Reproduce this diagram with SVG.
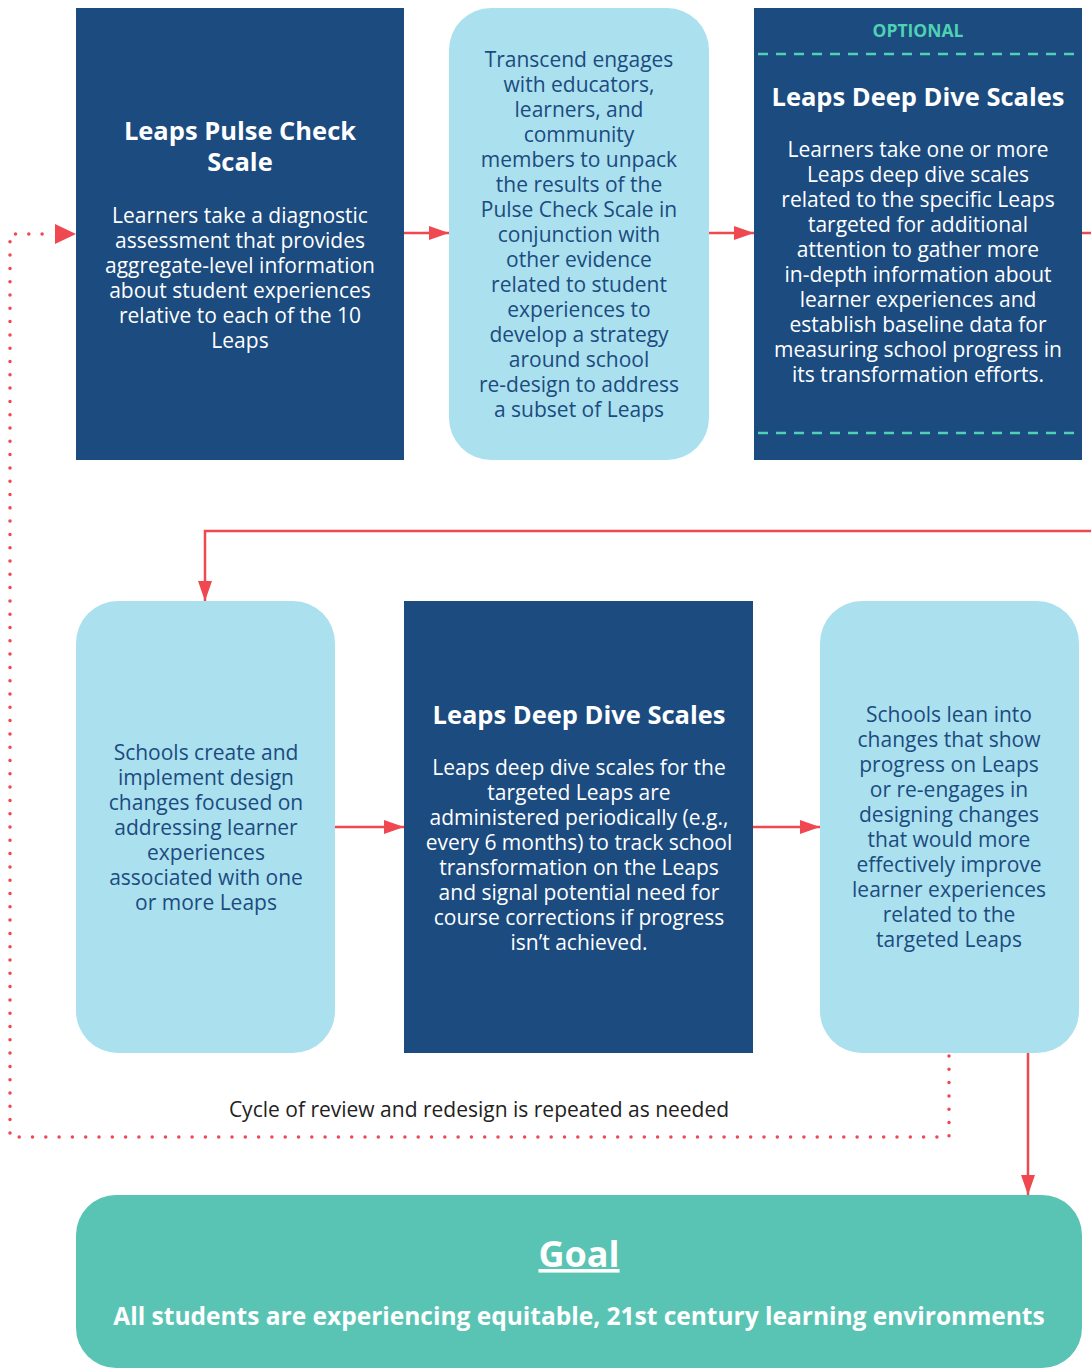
<svg xmlns="http://www.w3.org/2000/svg" width="1091" height="1368" viewBox="0 0 1091 1368">
<defs>
<style>
.dark{fill:#1b4b7f}
.light{fill:#abe0ee}
.t{font-family:"Open Sans","Noto Sans",sans-serif;text-anchor:middle}
.title{font-size:25.5px;font-weight:bold;fill:#fff}
.wb{font-size:21px;fill:#fff}
.db{font-size:21px;fill:#1b4b7f}
.conn{stroke:#ef4850;stroke-width:2.5;fill:none}
.dot{stroke:#ef4850;stroke-width:3.5;fill:none;stroke-dasharray:0 13.3;stroke-linecap:round}
.dash{stroke:#4fd1b3;stroke-width:2.5;stroke-dasharray:10 8}
</style>
<marker id="ah2" viewBox="0 0 10 10" refX="10" refY="5" markerWidth="20" markerHeight="14" markerUnits="userSpaceOnUse" orient="auto" preserveAspectRatio="none">
<path d="M0,0 L10,5 L0,10 Z" fill="#ef4850"/>
</marker>
</defs>
<rect width="1091" height="1368" fill="#fff"/>

<g id="connectors">
<line class="conn" x1="404" y1="233" x2="449" y2="233" marker-end="url(#ah2)"/>
<line class="conn" x1="709" y1="233" x2="754" y2="233" marker-end="url(#ah2)"/>
<line class="conn" x1="1082" y1="233" x2="1091" y2="233"/>
<polyline class="conn" points="1091,531 205,531 205,601" marker-end="url(#ah2)"/>
<line class="conn" x1="335" y1="827" x2="404" y2="827" marker-end="url(#ah2)"/>
<line class="conn" x1="753" y1="827" x2="820" y2="827" marker-end="url(#ah2)"/>
<line class="conn" x1="1028" y1="1053" x2="1028" y2="1195" marker-end="url(#ah2)"/>
<polyline class="dot" points="949,1056 949,1137 10,1137 10,234 52,234"/>
<path d="M55,224 L76,234 L55,244 Z" fill="#ef4850"/>
<text class="t" x="479" y="1117" style="font-size:21px;fill:#222">Cycle of review and redesign is repeated as needed</text>
</g>

<g id="node-pulse-check">
<rect class="dark" x="76" y="8" width="328" height="452"/>
<text class="t title" x="240" y="140">Leaps Pulse Check</text>
<text class="t title" x="240" y="171">Scale</text>
<text class="t wb" x="240" y="223">Learners take a diagnostic</text>
<text class="t wb" x="240" y="248">assessment that provides</text>
<text class="t wb" x="240" y="273">aggregate-level information</text>
<text class="t wb" x="240" y="298">about student experiences</text>
<text class="t wb" x="240" y="323">relative to each of the 10</text>
<text class="t wb" x="240" y="348">Leaps</text>
</g>

<g id="node-transcend">
<rect class="light" x="449" y="8" width="260" height="452" rx="42"/>
<text class="t db" x="579" y="67">Transcend engages</text>
<text class="t db" x="579" y="92">with educators,</text>
<text class="t db" x="579" y="117">learners, and</text>
<text class="t db" x="579" y="142">community</text>
<text class="t db" x="579" y="167">members to unpack</text>
<text class="t db" x="579" y="192">the results of the</text>
<text class="t db" x="579" y="217">Pulse Check Scale in</text>
<text class="t db" x="579" y="242">conjunction with</text>
<text class="t db" x="579" y="267">other evidence</text>
<text class="t db" x="579" y="292">related to student</text>
<text class="t db" x="579" y="317">experiences to</text>
<text class="t db" x="579" y="342">develop a strategy</text>
<text class="t db" x="579" y="367">around school</text>
<text class="t db" x="579" y="392">re-design to address</text>
<text class="t db" x="579" y="417">a subset of Leaps</text>
</g>

<g id="node-optional-deep-dive">
<rect class="dark" x="754" y="8" width="328" height="452"/>
<text class="t" x="918" y="37" style="font-size:17.5px;font-weight:bold;fill:#4fd1b3">OPTIONAL</text>
<line class="dash" x1="758" y1="54" x2="1080" y2="54"/>
<text class="t title" x="918" y="106">Leaps Deep Dive Scales</text>
<text class="t wb" x="918" y="157">Learners take one or more</text>
<text class="t wb" x="918" y="182">Leaps deep dive scales</text>
<text class="t wb" x="918" y="207">related to the specific Leaps</text>
<text class="t wb" x="918" y="232">targeted for additional</text>
<text class="t wb" x="918" y="257">attention to gather more</text>
<text class="t wb" x="918" y="282">in-depth information about</text>
<text class="t wb" x="918" y="307">learner experiences and</text>
<text class="t wb" x="918" y="332">establish baseline data for</text>
<text class="t wb" x="918" y="357">measuring school progress in</text>
<text class="t wb" x="918" y="382">its transformation efforts.</text>
<line class="dash" x1="758" y1="433" x2="1080" y2="433"/>
</g>

<g id="node-design-changes">
<rect class="light" x="76" y="601" width="259" height="452" rx="42"/>
<text class="t db" x="206" y="760">Schools create and</text>
<text class="t db" x="206" y="785">implement design</text>
<text class="t db" x="206" y="810">changes focused on</text>
<text class="t db" x="206" y="835">addressing learner</text>
<text class="t db" x="206" y="860">experiences</text>
<text class="t db" x="206" y="885">associated with one</text>
<text class="t db" x="206" y="910">or more Leaps</text>
</g>

<g id="node-deep-dive">
<rect class="dark" x="404" y="601" width="349" height="452"/>
<text class="t title" x="579" y="724">Leaps Deep Dive Scales</text>
<text class="t wb" x="579" y="775">Leaps deep dive scales for the</text>
<text class="t wb" x="579" y="800">targeted Leaps are</text>
<text class="t wb" x="579" y="825">administered periodically (e.g.,</text>
<text class="t wb" x="579" y="850">every 6 months) to track school</text>
<text class="t wb" x="579" y="875">transformation on the Leaps</text>
<text class="t wb" x="579" y="900">and signal potential need for</text>
<text class="t wb" x="579" y="925">course corrections if progress</text>
<text class="t wb" x="579" y="950">isn’t achieved.</text>
</g>

<g id="node-lean-into">
<rect class="light" x="820" y="601" width="259" height="452" rx="42"/>
<text class="t db" x="949" y="722">Schools lean into</text>
<text class="t db" x="949" y="747">changes that show</text>
<text class="t db" x="949" y="772">progress on Leaps</text>
<text class="t db" x="949" y="797">or re-engages in</text>
<text class="t db" x="949" y="822">designing changes</text>
<text class="t db" x="949" y="847">that would more</text>
<text class="t db" x="949" y="872">effectively improve</text>
<text class="t db" x="949" y="897">learner experiences</text>
<text class="t db" x="949" y="922">related to the</text>
<text class="t db" x="949" y="947">targeted Leaps</text>
</g>

<g id="node-goal">
<rect x="76" y="1195" width="1006" height="173" rx="40" fill="#5ac4b4"/>
<text class="t" x="579" y="1267" style="font-size:36px;font-weight:bold;fill:#fff;text-decoration:underline">Goal</text>
<text class="t" x="579" y="1325" style="font-size:24.5px;font-weight:bold;fill:#fff">All students are experiencing equitable, 21st century learning environments</text>
</g>
</svg>
